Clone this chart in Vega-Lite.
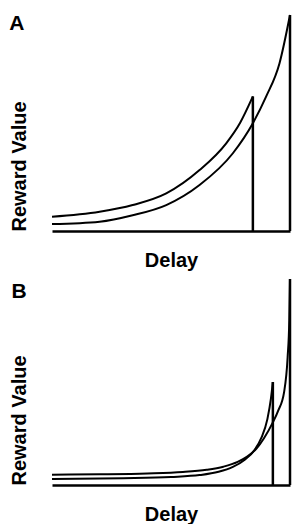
{
  "$schema": "https://vega.github.io/schema/vega-lite/v6.json",
  "padding": {"left": 9, "top": 11, "right": 0, "bottom": 0},
  "spacing": 5,
  "config": {
    "view": {"stroke": null},
    "font": "Liberation Sans",
    "axis": {"grid": false, "labels": false, "ticks": false, "titleColor": "black", "titleFontSize": 20, "titleFontWeight": "bold", "titleFont": "Liberation Sans"}
  },
  "datasets": {
    "curves": [
      {"panel": "A", "series": "small", "delay": 0, "value": 6.6},
      {"panel": "A", "series": "small", "delay": 20, "value": 8.9},
      {"panel": "A", "series": "small", "delay": 33.9, "value": 12.0},
      {"panel": "A", "series": "small", "delay": 48, "value": 17.4},
      {"panel": "A", "series": "small", "delay": 62, "value": 28.2},
      {"panel": "A", "series": "small", "delay": 73.2, "value": 40.6},
      {"panel": "A", "series": "small", "delay": 79, "value": 50.0},
      {"panel": "A", "series": "small", "delay": 84.4, "value": 62.3},
      {"panel": "A", "series": "large", "delay": 0, "value": 3.2},
      {"panel": "A", "series": "large", "delay": 20, "value": 4.3},
      {"panel": "A", "series": "large", "delay": 33.9, "value": 7.3},
      {"panel": "A", "series": "large", "delay": 48, "value": 12.0},
      {"panel": "A", "series": "large", "delay": 62, "value": 21.3},
      {"panel": "A", "series": "large", "delay": 76, "value": 36.0},
      {"panel": "A", "series": "large", "delay": 84.4, "value": 49.9},
      {"panel": "A", "series": "large", "delay": 90, "value": 62.3},
      {"panel": "A", "series": "large", "delay": 95.6, "value": 77.7},
      {"panel": "A", "series": "large", "delay": 100, "value": 100},
      {"panel": "B", "series": "small", "delay": 0, "value": 2.9},
      {"panel": "B", "series": "small", "delay": 30, "value": 3.3},
      {"panel": "B", "series": "small", "delay": 50, "value": 3.9},
      {"panel": "B", "series": "small", "delay": 62, "value": 4.8},
      {"panel": "B", "series": "small", "delay": 70, "value": 6.4},
      {"panel": "B", "series": "small", "delay": 76, "value": 8.8},
      {"panel": "B", "series": "small", "delay": 81, "value": 12.3},
      {"panel": "B", "series": "small", "delay": 85, "value": 16.8},
      {"panel": "B", "series": "small", "delay": 88, "value": 23.0},
      {"panel": "B", "series": "small", "delay": 90.5, "value": 32.0},
      {"panel": "B", "series": "small", "delay": 92, "value": 42.0},
      {"panel": "B", "series": "small", "delay": 92.8, "value": 50},
      {"panel": "B", "series": "large", "delay": 0, "value": 5.0},
      {"panel": "B", "series": "large", "delay": 20, "value": 5.2},
      {"panel": "B", "series": "large", "delay": 40, "value": 5.6},
      {"panel": "B", "series": "large", "delay": 55, "value": 6.3},
      {"panel": "B", "series": "large", "delay": 65, "value": 7.4},
      {"panel": "B", "series": "large", "delay": 72, "value": 8.9},
      {"panel": "B", "series": "large", "delay": 78, "value": 11.2},
      {"panel": "B", "series": "large", "delay": 82, "value": 13.8},
      {"panel": "B", "series": "large", "delay": 86, "value": 17.8},
      {"panel": "B", "series": "large", "delay": 89, "value": 22.6},
      {"panel": "B", "series": "large", "delay": 92.8, "value": 30.4},
      {"panel": "B", "series": "large", "delay": 95, "value": 36.0},
      {"panel": "B", "series": "large", "delay": 97.5, "value": 45},
      {"panel": "B", "series": "large", "delay": 99, "value": 62},
      {"panel": "B", "series": "large", "delay": 99.7, "value": 80},
      {"panel": "B", "series": "large", "delay": 100, "value": 100}
    ],
    "rewards": [
      {"panel": "A", "series": "small", "delay": 84.4, "value": 62.3},
      {"panel": "A", "series": "large", "delay": 100, "value": 100},
      {"panel": "B", "series": "small", "delay": 92.8, "value": 50},
      {"panel": "B", "series": "large", "delay": 100, "value": 100}
    ],
    "labels": [
      {"panel": "A", "label": "A"},
      {"panel": "B", "label": "B"}
    ]
  },
  "vconcat": [
    {
      "width": 238,
      "height": 216,
      "layer": [
        {
          "data": {"name": "curves"},
          "transform": [{"filter": "datum.panel === 'A'"}],
          "mark": {"type": "line", "interpolate": "monotone", "color": "black", "strokeWidth": 2},
          "encoding": {
            "x": {"field": "delay", "type": "quantitative", "scale": {"domain": [0, 100], "nice": false},
              "axis": {"title": "Delay", "domainColor": "black", "domainWidth": 2.5, "titlePadding": 19}},
            "y": {"field": "value", "type": "quantitative", "scale": {"domain": [0, 100], "nice": false},
              "axis": {"title": "Reward Value", "domain": false, "titleAnchor": "start", "titlePadding": 23}},
            "detail": {"field": "series"}
          }
        },
        {
          "data": {"name": "rewards"},
          "transform": [{"filter": "datum.panel === 'A'"}],
          "mark": {"type": "rule", "color": "black", "strokeWidth": 2.5},
          "encoding": {
            "x": {"field": "delay", "type": "quantitative"},
            "y": {"field": "value", "type": "quantitative"},
            "y2": {"datum": 0}
          }
        },
        {
          "data": {"name": "labels"},
          "transform": [{"filter": "datum.panel === 'A'"}],
          "mark": {"type": "text", "fontSize": 21, "fontWeight": "bold", "align": "left", "baseline": "alphabetic", "color": "black", "font": "Liberation Sans"},
          "encoding": {
            "text": {"field": "label"},
            "x": {"datum": -18},
            "y": {"datum": 93}
          }
        }
      ]
    },
    {
      "width": 238,
      "height": 206,
      "layer": [
        {
          "data": {"name": "curves"},
          "transform": [{"filter": "datum.panel === 'B'"}],
          "mark": {"type": "line", "interpolate": "monotone", "color": "black", "strokeWidth": 2},
          "encoding": {
            "x": {"field": "delay", "type": "quantitative", "scale": {"domain": [0, 100], "nice": false},
              "axis": {"title": "Delay", "domainColor": "black", "domainWidth": 2.5, "titlePadding": 19}},
            "y": {"field": "value", "type": "quantitative", "scale": {"domain": [0, 100], "nice": false},
              "axis": {"title": "Reward Value", "domain": false, "titleAnchor": "start", "titlePadding": 23}},
            "detail": {"field": "series"}
          }
        },
        {
          "data": {"name": "rewards"},
          "transform": [{"filter": "datum.panel === 'B'"}],
          "mark": {"type": "rule", "color": "black", "strokeWidth": 2.5},
          "encoding": {
            "x": {"field": "delay", "type": "quantitative"},
            "y": {"field": "value", "type": "quantitative"},
            "y2": {"datum": 0}
          }
        },
        {
          "data": {"name": "labels"},
          "transform": [{"filter": "datum.panel === 'B'"}],
          "mark": {"type": "text", "fontSize": 21, "fontWeight": "bold", "align": "left", "baseline": "alphabetic", "color": "black", "font": "Liberation Sans"},
          "encoding": {
            "text": {"field": "label"},
            "x": {"datum": -17},
            "y": {"datum": 90.8}
          }
        }
      ]
    }
  ]
}
